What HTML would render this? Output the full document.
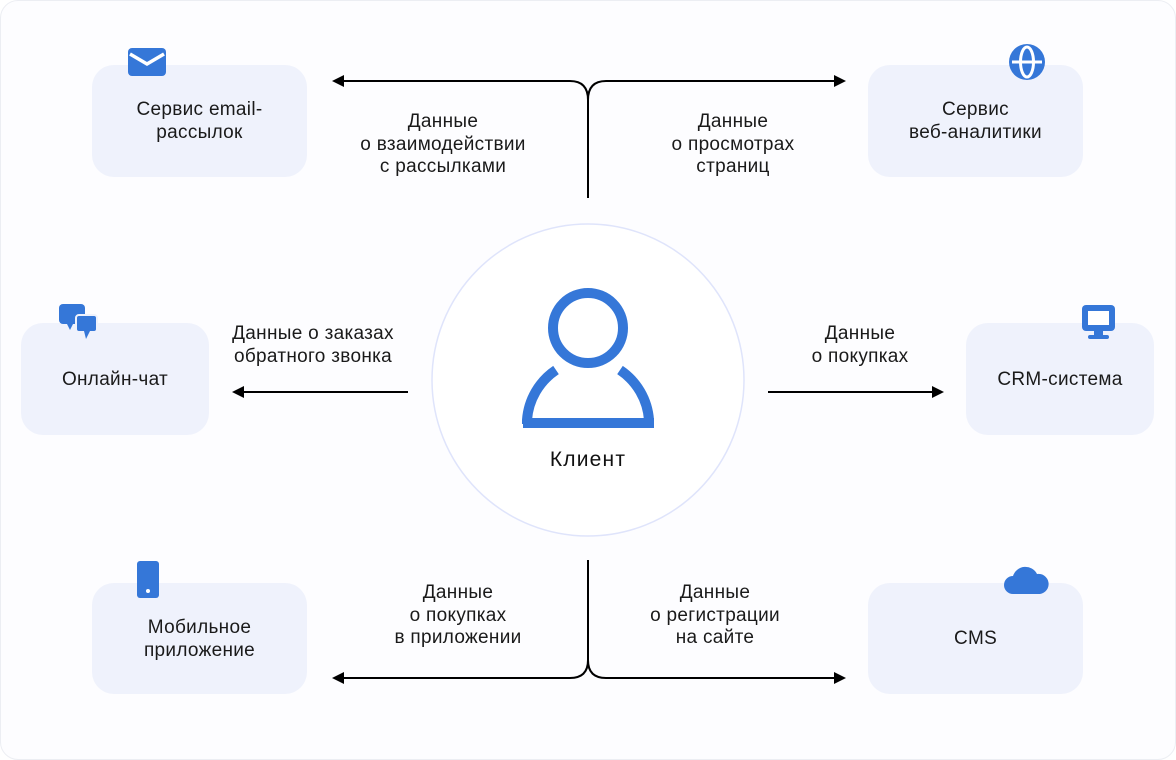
<!DOCTYPE html>
<html><head><meta charset="utf-8"><style>
html,body{margin:0;padding:0;background:#fff}
body{width:1176px;height:760px;position:relative;overflow:hidden;font-family:"Liberation Sans",sans-serif;color:#1a1a1a}
.frame{position:absolute;left:0;top:0;width:1174px;height:758px;border:1px solid #eceef3;border-radius:18px;background:#fdfdff}
.box{position:absolute;background:#eff2fc;border-radius:22px;display:flex;align-items:center;justify-content:center;text-align:center;font-size:19px;letter-spacing:0.3px;line-height:23px}
.lbl{position:absolute;text-align:center;font-size:19px;letter-spacing:0.3px;line-height:22.5px}
svg{position:absolute;left:0;top:0}
</style></head><body>
<div class="frame"></div>
<svg width="1176" height="760" viewBox="0 0 1176 760">
<circle cx="588" cy="380" r="156" fill="#fff" stroke="#dfe4fb" stroke-width="1.5"/>
<circle cx="588" cy="328" r="35" fill="none" stroke="#3577d8" stroke-width="10"/>
<path d="M556 370 A66 66 0 0 0 527 420 L527 424 M620 370 A66 66 0 0 1 649 420" fill="none" stroke="#3577d8" stroke-width="10"/>
<path d="M523 423 L654 423" stroke="#3577d8" stroke-width="10"/>
<g fill="none" stroke="#000" stroke-width="2">
<path d="M588 198 L588 100 Q588 81 570 81 L340 81"/>
<path d="M588 100 Q588 81 606 81 L838 81"/>
<path d="M588 560 L588 660 Q588 678 570 678 L340 678"/>
<path d="M588 660 Q588 678 606 678 L838 678"/>
<path d="M408 392 L240 392"/>
<path d="M768 392 L936 392"/>
</g>
<g fill="#000">
<path d="M332 81 L344 75 L344 87Z"/><path d="M846 81 L834 75 L834 87Z"/>
<path d="M332 678 L344 672 L344 684Z"/><path d="M846 678 L834 672 L834 684Z"/>
<path d="M232 392 L244 386 L244 398Z"/><path d="M944 392 L932 386 L932 398Z"/>
</g>
</svg>
<div class="box" style="left:92px;top:65px;width:215px;height:112px">Сервис email-<br>рассылок</div>
<div class="box" style="left:868px;top:65px;width:215px;height:112px">Сервис<br>веб-аналитики</div>
<div class="box" style="left:21px;top:323px;width:188px;height:112px">Онлайн-чат</div>
<div class="box" style="left:966px;top:323px;width:188px;height:112px">CRM-система</div>
<div class="box" style="left:92px;top:583px;width:215px;height:111px">Мобильное<br>приложение</div>
<div class="box" style="left:868px;top:583px;width:215px;height:111px">CMS</div>

<div class="lbl" style="left:343px;top:111px;width:200px">Данные<br>о взаимодействии<br>с рассылками</div>
<div class="lbl" style="left:633px;top:111px;width:200px">Данные<br>о просмотрах<br>страниц</div>
<div class="lbl" style="left:203px;top:323px;width:220px">Данные о заказах<br>обратного звонка</div>
<div class="lbl" style="left:760px;top:323px;width:200px">Данные<br>о покупках</div>
<div class="lbl" style="left:358px;top:582px;width:200px">Данные<br>о покупках<br>в приложении</div>
<div class="lbl" style="left:615px;top:582px;width:200px">Данные<br>о регистрации<br>на сайте</div>
<div class="lbl" style="left:478px;top:449px;width:220px;font-size:21px;letter-spacing:1.2px;color:#111">Клиент</div>

<svg width="1176" height="760" viewBox="0 0 1176 760">
<g fill="#3577d8">
<rect x="128" y="48" width="38" height="28" rx="4"/>
<path d="M130 54 L147 64 L164 54" fill="none" stroke="#fff" stroke-width="3.5"/>
<circle cx="1027" cy="62" r="18"/>
<g fill="none" stroke="#fff" stroke-width="3"><ellipse cx="1027" cy="62" rx="6.5" ry="15"/><path d="M1012 62 H1042"/></g>
<rect x="59" y="304" width="26" height="20" rx="4"/><path d="M66 322 L70 330 L74 322Z"/>
<rect x="76" y="315" width="21" height="17" rx="3" stroke="#eff2fc" stroke-width="2"/><path d="M84 331 L86 339 L90 331Z"/>
<rect x="1082" y="305" width="33" height="26" rx="4"/><rect x="1088" y="311" width="21" height="14" fill="#fff"/><rect x="1094" y="331" width="9" height="5"/><rect x="1088" y="335" width="21" height="4" rx="2"/>
<rect x="137" y="561" width="22" height="37" rx="3"/><circle cx="148" cy="591" r="2" fill="#fff"/>
<path d="M1013 594 A9 9 0 0 1 1013 576 A13 13 0 0 1 1037 574 A10 10 0 0 1 1040 594Z"/>
</g>
</svg>
</body></html>
